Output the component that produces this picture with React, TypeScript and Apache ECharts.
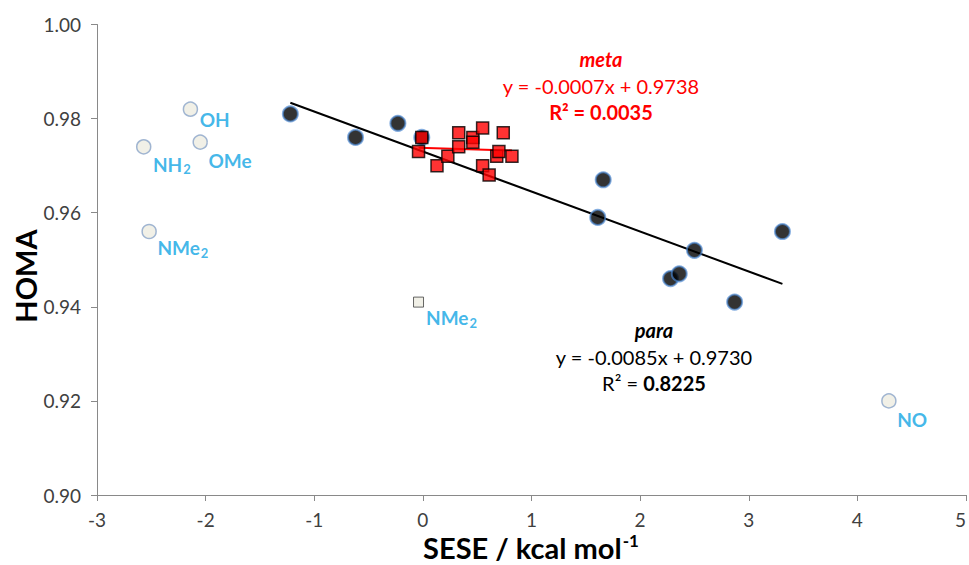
import { useEffect, useRef } from "react";
import * as echarts from "echarts";

// para-substituted rings: SESE (kcal/mol) vs HOMA
const paraX = [-1.22, -0.62, -0.23, -0.01, 1.61, 1.66, 2.28, 2.36, 2.5, 2.87, 3.31];
const paraY = [0.981, 0.976, 0.979, 0.976, 0.959, 0.967, 0.946, 0.947, 0.952, 0.941, 0.956];

// meta-substituted rings
const metaX = [-0.01, -0.04, 0.13, 0.23, 0.33, 0.33, 0.46, 0.46, 0.55, 0.55, 0.61, 0.68, 0.7, 0.74, 0.82];
const metaY = [0.976, 0.973, 0.97, 0.972, 0.977, 0.974, 0.976, 0.975, 0.978, 0.97, 0.968, 0.972, 0.973, 0.977, 0.972];

// strongly donating / accepting substituents excluded from the fits
const paraOutNames = ["OH", "NH2", "OMe", "NMe2", "NO"];
const paraOutX = [-2.14, -2.57, -2.05, -2.52, 4.29];
const paraOutY = [0.982, 0.974, 0.975, 0.956, 0.92];

const metaOutNames = ["NMe2"];
const metaOutX = [-0.04];
const metaOutY = [0.941];

// linear fits
const paraFit = { slope: -0.0085, intercept: 0.973, r2: 0.8225 };
const metaFit = { slope: -0.0007, intercept: 0.9738, r2: 0.0035 };

const xTicks = [-3, -2, -1, 0, 1, 2, 3, 4, 5];
const yTicks = [0.9, 0.92, 0.94, 0.96, 0.98, 1.0];

const FONT = "Lato, 'Open Sans', sans-serif";
const BLUE = "#12a5e3";
const RED = "#ff0000";

// label placement (pixels from marker centre: left edge, vertical middle)
const paraOutLabelOffset = [
  [10, 11],
  [10, 18],
  [9, 19],
  [9, 17],
  [9, 19],
];
const metaOutLabelOffset = [[8, 16]];

const labelRich = {
  b: { fontFamily: FONT, fontSize: 19, fontWeight: "bold", color: BLUE },
  s: { fontFamily: FONT, fontSize: 13, fontWeight: "bold", color: BLUE, padding: [10, 0, 0, 1] },
};

function subscripted(name: string): string {
  const m = name.match(/^([A-Za-z]+)(\d+)$/);
  return m ? `{b|${m[1]}}{s|${m[2]}}` : `{b|${name}}`;
}

function fitLine(fit: { slope: number; intercept: number }, xs: number[]) {
  const lo = Math.min(...xs);
  const hi = Math.max(...xs);
  return [
    [lo, fit.intercept + fit.slope * lo],
    [hi, fit.intercept + fit.slope * hi],
  ];
}

function fmtEq(fit: { slope: number; intercept: number }) {
  return `y = ${fit.slope.toFixed(4)}x + ${fit.intercept.toFixed(4)}`;
}

export default function App() {
  const ref = useRef<HTMLDivElement>(null);

  useEffect(() => {
    document.body.style.margin = "0";
    const chart = echarts.init(ref.current!, null, { renderer: "svg" });

    const option = {
      animation: false,
      backgroundColor: "#ffffff",
      grid: {
        left: 97,
        right: 3,
        top: 24.5,
        bottom: 70,
        containLabel: false,
        outerBoundsMode: "none",
      },
      xAxis: {
        type: "value",
        min: xTicks[0],
        max: xTicks[xTicks.length - 1],
        interval: 1,
        splitLine: { show: false },
        axisLine: { onZero: false, lineStyle: { color: "#898989", width: 1 } },
        axisTick: { show: true, length: 6, lineStyle: { color: "#898989" } },
        axisLabel: {
          color: "#404040",
          fontFamily: FONT,
          fontSize: 19,
          margin: 15,
          alignMaxLabel: "right",
        },
      },
      yAxis: {
        type: "value",
        min: yTicks[0],
        max: yTicks[yTicks.length - 1],
        interval: 0.02,
        splitLine: { show: false },
        axisLine: { show: true, onZero: false, lineStyle: { color: "#898989", width: 1 } },
        axisTick: { show: true, length: 6, lineStyle: { color: "#898989" } },
        axisLabel: {
          color: "#404040",
          fontFamily: FONT,
          fontSize: 19,
          margin: 16,
          formatter: (v: number) => v.toFixed(2),
        },
      },
      series: [
        {
          name: "para fit",
          type: "line",
          data: fitLine(paraFit, paraX),
          symbol: "none",
          lineStyle: { color: "#000000", width: 2 },
          z: 1,
        },
        {
          name: "meta fit",
          type: "line",
          data: fitLine(metaFit, metaX),
          symbol: "none",
          lineStyle: { color: RED, width: 2 },
          z: 1,
        },
        {
          name: "para",
          type: "scatter",
          data: paraX.map((x, i) => [x, paraY[i]]),
          symbol: "circle",
          symbolSize: 15,
          itemStyle: {
            color: "#000000",
            borderColor: "rgba(74,134,208,0.85)",
            borderWidth: 2,
          },
          z: 3,
        },
        {
          name: "meta",
          type: "scatter",
          data: metaX.map((x, i) => [x, metaY[i]]),
          symbol: "rect",
          symbolSize: 12,
          itemStyle: { color: RED, borderColor: "#000000", borderWidth: 1.5 },
          z: 4,
        },
        {
          name: "para excluded",
          type: "scatter",
          data: paraOutX.map((x, i) => ({
            value: [x, paraOutY[i]],
            name: paraOutNames[i],
            label: {
              show: true,
              position: [7 + paraOutLabelOffset[i][0], 7 + paraOutLabelOffset[i][1]],
              align: "left",
              verticalAlign: "middle",
              formatter: subscripted(paraOutNames[i]),
              rich: labelRich,
            },
          })),
          symbol: "circle",
          symbolSize: 14,
          itemStyle: { color: "#eeece1", borderColor: "#8aa4c8", borderWidth: 1.5 },
          z: 3,
        },
        {
          name: "meta excluded",
          type: "scatter",
          data: metaOutX.map((x, i) => ({
            value: [x, metaOutY[i]],
            name: metaOutNames[i],
            label: {
              show: true,
              position: [5 + metaOutLabelOffset[i][0], 5 + metaOutLabelOffset[i][1]],
              align: "left",
              verticalAlign: "middle",
              formatter: subscripted(metaOutNames[i]),
              rich: labelRich,
            },
          })),
          symbol: "rect",
          symbolSize: 10,
          itemStyle: { color: "#eeece1", borderColor: "#404040", borderWidth: 1 },
          z: 3,
        },
      ],
      graphic: [
        // meta fit annotation
        {
          type: "text",
          x: 601,
          y: 59,
          style: {
            text: "meta",
            fill: RED,
            fontFamily: FONT,
            fontSize: 20,
            fontWeight: "bold",
            fontStyle: "italic",
            align: "center",
            verticalAlign: "middle",
          },
        },
        {
          type: "text",
          x: 601,
          y: 86,
          style: {
            text: fmtEq(metaFit),
            fill: RED,
            fontFamily: FONT,
            fontSize: 20,
            align: "center",
            verticalAlign: "middle",
          },
        },
        {
          type: "text",
          x: 601,
          y: 112,
          style: {
            text: `R² = ${metaFit.r2.toFixed(4)}`,
            fill: RED,
            fontFamily: FONT,
            fontSize: 20,
            fontWeight: "bold",
            align: "center",
            verticalAlign: "middle",
          },
        },
        // para fit annotation
        {
          type: "text",
          x: 654,
          y: 330,
          style: {
            text: "para",
            fill: "#000000",
            fontFamily: FONT,
            fontSize: 20,
            fontWeight: "bold",
            fontStyle: "italic",
            align: "center",
            verticalAlign: "middle",
          },
        },
        {
          type: "text",
          x: 654,
          y: 357,
          style: {
            text: fmtEq(paraFit),
            fill: "#000000",
            fontFamily: FONT,
            fontSize: 20,
            align: "center",
            verticalAlign: "middle",
          },
        },
        {
          type: "text",
          x: 654,
          y: 383,
          style: {
            text: `{n|R² = }{b|${paraFit.r2.toFixed(4)}}`,
            align: "center",
            verticalAlign: "middle",
            rich: {
              n: { fill: "#000000", fontFamily: FONT, fontSize: 20 },
              b: { fill: "#000000", fontFamily: FONT, fontSize: 20, fontWeight: "bold" },
            },
          },
        },
        // axis titles
        {
          type: "text",
          x: 531,
          y: 547,
          style: {
            text: "{t|SESE / kcal mol}{u|-1}",
            align: "center",
            verticalAlign: "middle",
            rich: {
              t: {
                fill: "#000000",
                fontFamily: FONT,
                fontSize: 29,
                fontWeight: "bold",
                lineHeight: 30,
              },
              u: {
                fill: "#000000",
                fontFamily: FONT,
                fontSize: 17,
                fontWeight: "bold",
                lineHeight: 18,
                verticalAlign: "top",
                padding: [0, 0, 0, 1],
              },
            },
          },
        },
        {
          type: "text",
          x: 25,
          y: 276,
          rotation: Math.PI / 2,
          style: {
            text: "HOMA",
            fill: "#000000",
            fontFamily: FONT,
            fontSize: 29,
            fontWeight: "bold",
            align: "center",
            verticalAlign: "middle",
          },
        },
      ],
    };

    chart.setOption(option as any);
    return () => chart.dispose();
  }, []);

  return <div ref={ref} style={{ width: 969, height: 565 }} />;
}
